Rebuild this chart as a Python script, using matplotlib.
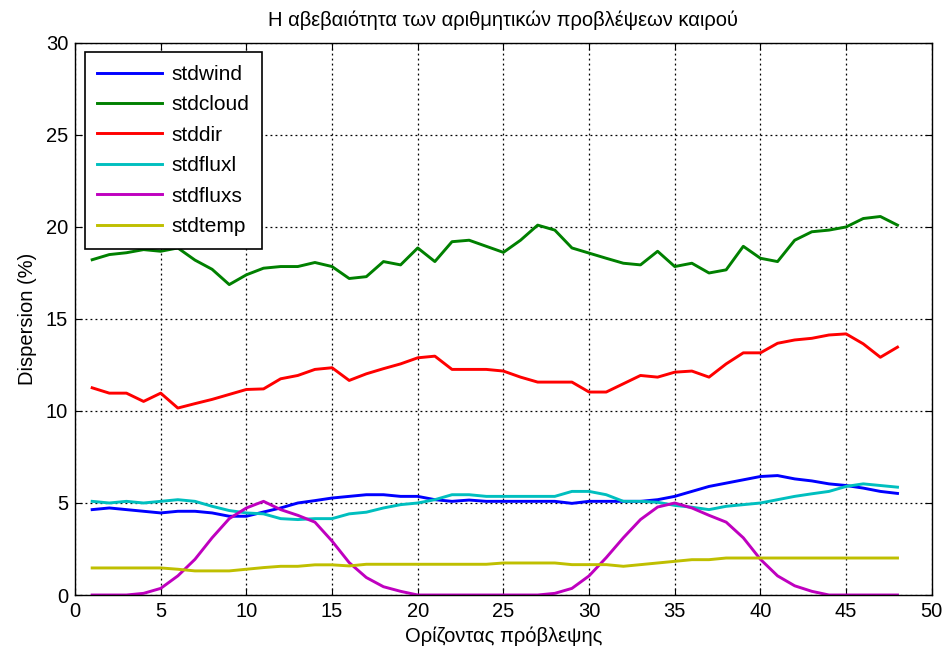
import numpy as np
import matplotlib
matplotlib.use("Agg")
import matplotlib.pyplot as plt

plt.rcParams['font.family'] = ['Liberation Sans', 'DejaVu Sans']

# forecast horizon 1..48 and dispersion series (%)
horizon = list(range(1, 49))

stdwind = [4.64, 4.73, 4.64, 4.55, 4.46, 4.55, 4.55, 4.46, 4.28, 4.28,
           4.51, 4.73, 5.00, 5.13, 5.27, 5.36, 5.45, 5.45, 5.36, 5.36,
           5.18, 5.09, 5.16, 5.09, 5.09, 5.09, 5.09, 5.09, 4.98, 5.09,
           5.09, 5.09, 5.09, 5.18, 5.36, 5.63, 5.90, 6.08, 6.26, 6.44,
           6.49, 6.31, 6.20, 6.04, 5.95, 5.81, 5.63, 5.52]

stdcloud = [18.22, 18.50, 18.60, 18.77, 18.68, 18.86, 18.20, 17.70, 16.87, 17.40,
            17.76, 17.85, 17.85, 18.07, 17.85, 17.20, 17.30, 18.12, 17.94, 18.86,
            18.12, 19.20, 19.28, 18.95, 18.62, 19.28, 20.10, 19.83, 18.86, 18.58,
            18.30, 18.03, 17.94, 18.68, 17.85, 18.03, 17.50, 17.67, 18.95, 18.30,
            18.12, 19.28, 19.74, 19.83, 20.00, 20.46, 20.57, 20.10]

stddir = [11.26, 10.97, 10.97, 10.52, 10.97, 10.16, 10.40, 10.63, 10.90, 11.17,
          11.20, 11.75, 11.93, 12.26, 12.35, 11.66, 12.02, 12.30, 12.56, 12.89,
          12.98, 12.26, 12.26, 12.26, 12.17, 11.84, 11.57, 11.57, 11.57, 11.03,
          11.03, 11.48, 11.93, 11.84, 12.11, 12.17, 11.84, 12.56, 13.16, 13.16,
          13.68, 13.86, 13.95, 14.13, 14.19, 13.65, 12.92, 13.47]

stdfluxl = [5.09, 5.00, 5.09, 5.00, 5.09, 5.18, 5.09, 4.82, 4.59, 4.46,
            4.41, 4.15, 4.10, 4.15, 4.15, 4.41, 4.50, 4.73, 4.91, 5.00,
            5.18, 5.45, 5.45, 5.36, 5.36, 5.36, 5.36, 5.36, 5.63, 5.63,
            5.45, 5.09, 5.09, 5.04, 4.87, 4.77, 4.64, 4.82, 4.91, 5.00,
            5.18, 5.36, 5.50, 5.63, 5.90, 6.04, 5.95, 5.86]

stdfluxs = [0.00, 0.00, 0.00, 0.09, 0.36, 1.04, 1.94, 3.11, 4.15, 4.73,
            5.09, 4.64, 4.33, 3.96, 2.93, 1.76, 0.95, 0.45, 0.20, 0.00,
            0.00, 0.00, 0.00, 0.00, 0.00, 0.00, 0.00, 0.09, 0.36, 1.04,
            2.03, 3.11, 4.10, 4.78, 5.00, 4.73, 4.33, 3.96, 3.11, 1.94,
            1.04, 0.50, 0.20, 0.00, 0.00, 0.00, 0.00, 0.00]

stdtemp = [1.47, 1.47, 1.47, 1.47, 1.47, 1.40, 1.31, 1.31, 1.31, 1.40,
           1.49, 1.56, 1.56, 1.64, 1.64, 1.58, 1.67, 1.67, 1.67, 1.67,
           1.67, 1.67, 1.67, 1.67, 1.74, 1.74, 1.74, 1.74, 1.65, 1.65,
           1.65, 1.56, 1.65, 1.74, 1.83, 1.92, 1.92, 2.01, 2.01, 2.01,
           2.01, 2.01, 2.01, 2.01, 2.01, 2.01, 2.01, 2.01]

series_names = ["stdwind", "stdcloud", "stddir", "stdfluxl", "stdfluxs", "stdtemp"]
series_values = [stdwind, stdcloud, stddir, stdfluxl, stdfluxs, stdtemp]
colours = [(0, 0, 1), (0, 0.5, 0), (1, 0, 0), (0, 0.75, 0.75), (0.75, 0, 0.75), (0.75, 0.75, 0)]

fig = plt.figure(figsize=(9.45, 6.55), dpi=100)
ax = fig.add_axes([0.0794, 0.0916, 0.9066, 0.8428])

for name, values, col in zip(series_names, series_values, colours):
    ax.plot(horizon, values, color=col, linewidth=2.1, label=name)

ax.set_xlim(0, 50)
ax.set_ylim(0, 30)
ax.set_xticks(np.arange(0, 51, 5))
ax.set_yticks(np.arange(0, 31, 5))
ax.tick_params(direction='in', top=True, right=True, labelsize=14.5, length=5, width=0.8, pad=5)
ax.grid(True, color='black', linestyle=(0, (1.5, 2.5)), linewidth=0.9)
for s in ax.spines.values():
    s.set_linewidth(1.0)

ax.set_title("Η αβεβαιότητα των αριθμητικών προβλέψεων καιρού", fontsize=14.5, pad=12)
ax.set_xlabel("Ορίζοντας πρόβλεψης", fontsize=14.5, labelpad=4)
ax.set_ylabel("Dispersion (%)", fontsize=14.5, labelpad=6)

leg = ax.legend(loc='upper left', bbox_to_anchor=(0.0115, 0.983), fontsize=15, fancybox=False,
                edgecolor='black', framealpha=1, handlelength=3.1, handletextpad=0.45,
                labelspacing=0.55, borderpad=0.6, borderaxespad=0)
leg.get_frame().set_linewidth(1.2)

fig.savefig("out.png", dpi=100)
